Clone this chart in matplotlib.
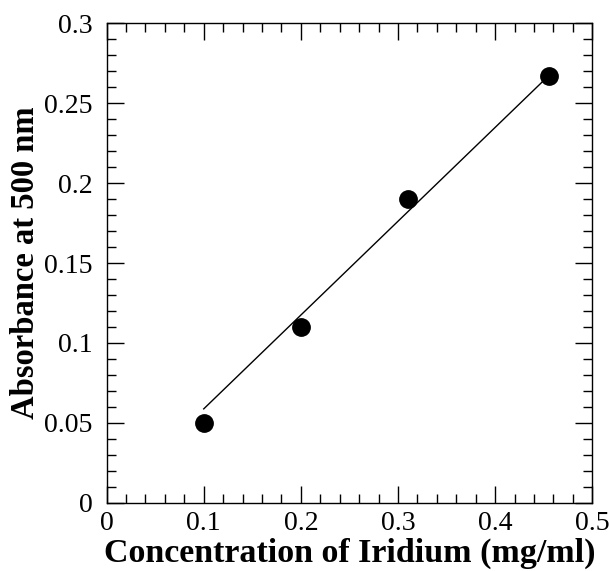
import numpy as np
import matplotlib
matplotlib.use("Agg")
import matplotlib.pyplot as plt
from matplotlib.ticker import MultipleLocator

# data
conc = np.array([0.1, 0.2, 0.31, 0.455])
absorb = np.array([0.05, 0.11, 0.19, 0.267])

xticks = [0, 0.1, 0.2, 0.3, 0.4, 0.5]
xlabels = ['0', '0.1', '0.2', '0.3', '0.4', '0.5']
yticks = [0, 0.05, 0.1, 0.15, 0.2, 0.25, 0.3]
ylabels = ['0', '0.05', '0.1', '0.15', '0.2', '0.25', '0.3']

# straight line through the origin (least squares)
slope = np.sum(conc * absorb) / np.sum(conc * conc)
fit_x = np.array([conc.min(), conc.max()])
fit_y = slope * fit_x

plt.rcParams['font.family'] = ['Liberation Serif', 'DejaVu Serif']

fig = plt.figure(figsize=(6.09, 5.71), dpi=100)
ax = fig.add_axes([0.175, 0.1196, 0.7976, 0.8394])

ax.plot(fit_x, fit_y, color='black', linewidth=1.0)
ax.plot(conc, absorb, 'o', color='black', markersize=12.5)

ax.set_xlim(0, 0.5)
ax.set_ylim(0, 0.3)
ax.set_xticks(xticks)
ax.set_xticklabels(xlabels)
ax.set_yticks(yticks)
ax.set_yticklabels(ylabels)
ax.xaxis.set_minor_locator(MultipleLocator(0.02))
ax.yaxis.set_minor_locator(MultipleLocator(0.01))

ax.tick_params(which='both', direction='in', top=True, right=True, width=1.0, labelsize=20)
ax.tick_params(which='major', length=12)
ax.tick_params(which='minor', length=6.5)
ax.tick_params(axis='x', which='major', pad=6)
ax.tick_params(axis='y', which='major', pad=10)
for s in ax.spines.values():
    s.set_linewidth(1.0)

ax.set_xlabel('Concentration of Iridium (mg/ml)', fontsize=24.5, fontweight='bold', labelpad=1)
ax.set_ylabel('Absorbance at 500 nm', fontsize=23.5, fontweight='bold', labelpad=2)

plt.savefig('out.png', dpi=100)
